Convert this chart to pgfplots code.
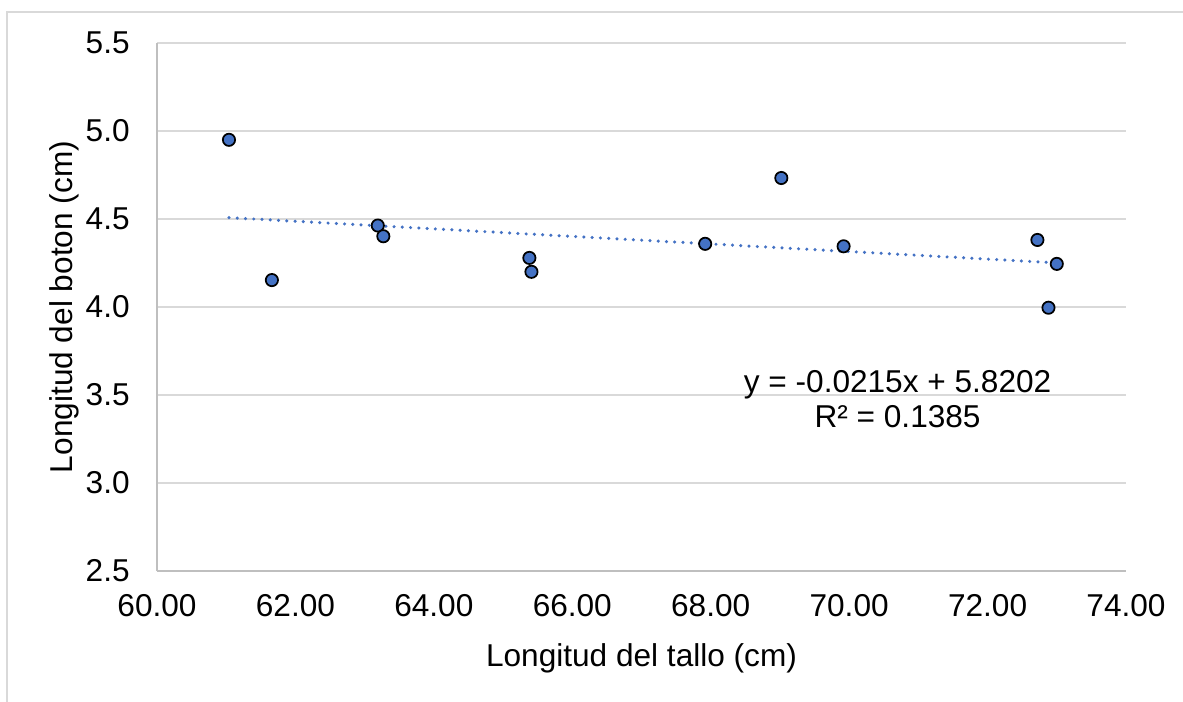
\documentclass[border=0pt]{standalone}
\usepackage{fontspec}
\setmainfont{Liberation Sans}
\usepackage{pgfplots}
\pgfplotsset{compat=1.18}
\definecolor{ptblue}{HTML}{4472C4}
\definecolor{gridc}{HTML}{D9D9D9}
\definecolor{axc}{HTML}{BFBFBF}
\pgfplotstableread{
x y
61.04 4.950
61.66 4.153
63.19 4.463
63.27 4.402
65.38 4.279
65.41 4.200
67.92 4.359
69.02 4.733
69.92 4.345
72.72 4.381
73.00 4.245
72.88 3.996
}\datatable
\begin{document}
\begin{tikzpicture}
\useasboundingbox (0pt,0pt) rectangle (887.25pt,-525.75pt);
\draw[gridc, line width=1.4pt] (5.25pt,-530pt) -- (5.25pt,-9pt) -- (892pt,-9pt);
\begin{axis}[
  at={(117.75pt,-428.25pt)}, anchor=south west,
  scale only axis, width=726.75pt, height=396pt,
  xmin=60, xmax=74, ymin=2.5, ymax=5.5,
  xtick={60,62,...,74}, ytick={2.5,3.0,...,5.5},
  axis lines*=left,
  axis line style={axc, line width=0.9pt},
  ymajorgrids, grid style={gridc, line width=0.9pt},
  major tick length=0pt,
  /pgf/number format/assume math mode=true,
  xticklabel style={/pgf/number format/fixed, /pgf/number format/fixed zerofill, /pgf/number format/precision=2, yshift=-14pt},
  yticklabel style={/pgf/number format/fixed, /pgf/number format/fixed zerofill, /pgf/number format/precision=1, xshift=-17pt},
  tick label style={font=\fontsize{23.7}{28}\selectfont, text=black},
  label style={font=\fontsize{23.7}{28}\selectfont},
  xlabel={Longitud del tallo (cm)},
  ylabel={Longitud del boton (cm)},
  xlabel style={at={(axis description cs:0.5,-0.1818)}, anchor=base},
  ylabel style={at={(axis description cs:-0.0877,0.5)}, anchor=base},
]
\addplot[only marks, mark=*, mark size=4.6pt,
  mark options={fill=ptblue, draw=black, line width=1.3pt}] table[x=x, y=y] {\datatable};
\addplot[ptblue, line width=2.6pt, dash pattern=on 0pt off 6.2pt, line cap=round]
  coordinates {(61.04,4.5078) (73.00,4.2507)};
\node[anchor=base, font=\fontsize{23.7}{28}\selectfont] at (axis cs:70.70,3.517) {y = -0.0215x + 5.8202};
\node[anchor=base, font=\fontsize{23.7}{28}\selectfont] at (axis cs:70.70,3.316) {R² = 0.1385};
\end{axis}
\end{tikzpicture}
\end{document}
